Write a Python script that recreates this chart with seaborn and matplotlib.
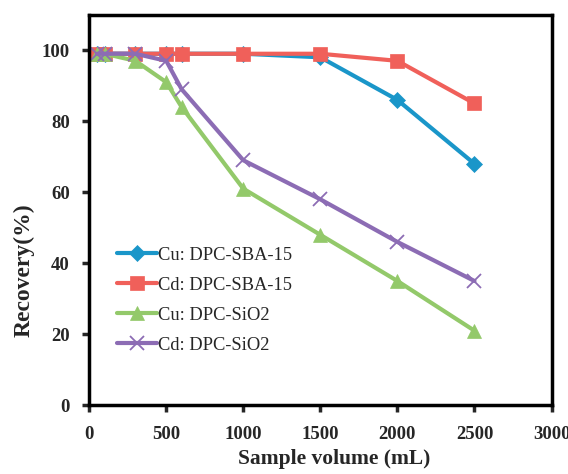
import numpy as np
import pandas as pd
import matplotlib
matplotlib.use("Agg")
import matplotlib.pyplot as plt
import seaborn as sns

# sample volumes (mL) and recovery (%)
volume = [50, 100, 300, 500, 600, 1000, 1500, 2000, 2500]
cu_sba = [99, 99, 99, 99, 99, 99, 98, 86, 68]
cd_sba = [99, 99, 99, 99, 99, 99, 99, 97, 85]
cu_sio2 = [99, 99, 97, 91, 84, 61, 48, 35, 21]
cd_sio2 = [99, 99, 99, 97, 89, 69, 58, 46, 35]

labels = ["Cu: DPC-SBA-15", "Cd: DPC-SBA-15", "Cu: DPC-SiO2", "Cd: DPC-SiO2"]
colors = ["#1a96c9", "#f0605a", "#93c96a", "#8c6cb4"]
markers = ["D", "s", "^", "x"]
msizes = [8, 10.5, 10.5, 10]

sns.set_style("ticks")
plt.rcParams["font.family"] = ["Liberation Serif", "DejaVu Serif"]

df = pd.DataFrame({"volume": volume * 4,
                   "recovery": cu_sba + cd_sba + cu_sio2 + cd_sio2,
                   "series": np.repeat(labels, len(volume))})

fig = plt.figure(figsize=(5.68, 4.74), dpi=100)
ax = fig.add_axes([0.157, 0.145, 0.814, 0.824])

for lab, c, m, ms in zip(labels, colors, markers, msizes):
    sub = df[df["series"] == lab]
    sns.lineplot(data=sub, x="volume", y="recovery", ax=ax, color=c,
                 marker=m, markersize=ms, linewidth=3, label=lab,
                 markeredgecolor=c, markeredgewidth=1.3 if m == "x" else 0.5)

ax.set_xlim(0, 3000)
ax.set_ylim(0, 110)
ax.set_xticks(range(0, 3001, 500))
ax.set_yticks(range(0, 101, 20))
ax.tick_params(direction="out", width=2.5, length=5, labelsize=13.5)
for t in ax.get_xticklabels() + ax.get_yticklabels():
    t.set_fontweight("bold")
ax.xaxis.set_tick_params(pad=10)
ax.yaxis.set_tick_params(pad=9)
for s in ax.spines.values():
    s.set_linewidth(2.5)
    s.set_color("black")

ax.set_xlabel("Sample volume (mL)", fontsize=15.5, fontweight="bold")
ax.set_ylabel("Recovery(%)", fontsize=17, fontweight="bold")
ax.xaxis.set_label_coords(0.531, -0.112)
ax.yaxis.set_label_coords(-0.117, 0.346)

ax.legend(loc="lower left", bbox_to_anchor=(0.0445, 0.113), borderaxespad=0,
          frameon=False, fontsize=13.3, handlelength=2.15, labelspacing=0.7,
          handletextpad=0.05)

fig.savefig("out.png", dpi=100)
